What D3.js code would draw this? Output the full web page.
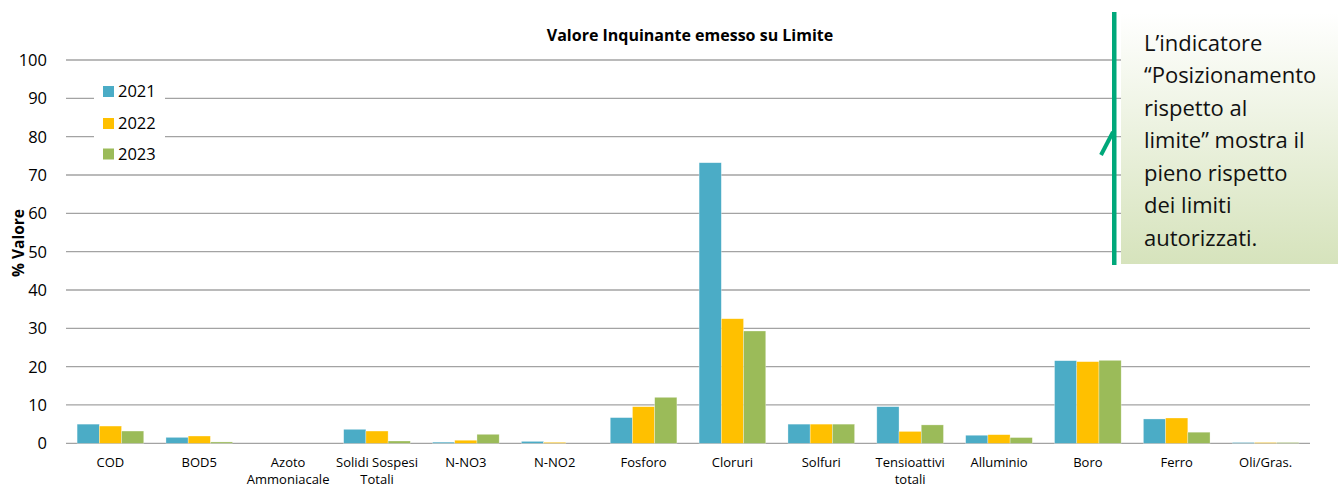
<!DOCTYPE html>
<html>
<head>
<meta charset="utf-8">
<script src="https://cdn.jsdelivr.net/npm/d3@7"></script>
<style>
  body { margin: 0; background: #fff; }
  svg { display: block; font-family: "Open Sans", sans-serif; }
</style>
</head>
<body>
<script>
// chart data
var categories = ['COD', 'BOD5', 'Azoto Ammoniacale', 'Solidi Sospesi Totali', 'N-NO3', 'N-NO2',
  'Fosforo', 'Cloruri', 'Solfuri', 'Tensioattivi totali', 'Alluminio', 'Boro', 'Ferro', 'Oli/Gras.'];
// label lines as drawn under the axis
var categoryLines = [['COD'], ['BOD5'], ['Azoto', 'Ammoniacale'], ['Solidi Sospesi', 'Totali'], ['N-NO3'], ['N-NO2'],
  ['Fosforo'], ['Cloruri'], ['Solfuri'], ['Tensioattivi', 'totali'], ['Alluminio'], ['Boro'], ['Ferro'], ['Oli/Gras.']];
var years = ['2021', '2022', '2023'];
var values2021 = [5.0, 1.55, 0, 3.65, 0.3, 0.5, 6.7, 73.2, 5.0, 9.55, 2.1, 21.55, 6.35, 0.2];
var values2022 = [4.5, 1.9, 0, 3.2, 0.8, 0.25, 9.55, 32.5, 5.0, 3.1, 2.25, 21.3, 6.6, 0.2];
var values2023 = [3.2, 0.35, 0, 0.6, 2.35, 0, 12.0, 29.3, 5.0, 4.8, 1.5, 21.65, 2.9, 0.2];
var yTicks = [0, 10, 20, 30, 40, 50, 60, 70, 80, 90, 100];
var colors = ['#4BACC6', '#FFC000', '#9BBB59'];
var noteLines = ['L\u2019indicatore', '\u201CPosizionamento', 'rispetto al', 'limite\u201D mostra il',
  'pieno rispetto', 'dei limiti', 'autorizzati.'];

var width = 1338;
var height = 488;
var svg = d3.select('body').append('svg')
  .attr('width', width)
  .attr('height', height);

var series = [values2021, values2022, values2023];

//scales
var x = d3.scaleBand().domain(categories).range([66, 1310]);
var xInner = d3.scaleBand().domain(years).range([0, x.bandwidth() * 0.75]);
var y = d3.scaleLinear().domain([0, 100]).range([443.3, 60]);

//gridlines
svg.append('g').selectAll('line').data(yTicks).enter().append('line')
  .attr('x1', 66).attr('x2', 1310)
  .attr('y1', function(d){ return y(d); })
  .attr('y2', function(d){ return y(d); })
  .style('stroke', '#a3a3a3')
  .style('stroke-width', 1.3);

//y axis labels
svg.append('g').selectAll('text').data(yTicks).enter().append('text')
  .attr('x', 47)
  .attr('y', function(d){ return y(d); })
  .attr('dy', '0.36em')
  .attr('text-anchor', 'end')
  .style('font-size', '16.5px')
  .style('fill', '#000')
  .text(function(d){ return d; });

//bars
var groups = svg.append('g').selectAll('g').data(categories).enter().append('g')
  .attr('transform', function(d){ return 'translate(' + (x(d) + x.bandwidth() * 0.125) + ',0)'; });

groups.selectAll('rect')
  .data(function(d, i){ return years.map(function(yr, j){ return {year: yr, value: series[j][i], color: colors[j]}; }); })
  .enter().append('rect')
  .attr('x', function(d){ return xInner(d.year); })
  .attr('width', xInner.bandwidth())
  .attr('y', function(d){ return y(d.value); })
  .attr('height', function(d){ return y(0) - y(d.value); })
  .style('fill', function(d){ return d.color; })
  .style('stroke', 'rgba(255,255,255,0.5)')
  .style('stroke-width', 0.6);

//x labels
var xl = svg.append('g').selectAll('text').data(categories).enter().append('text')
  .attr('x', function(d){ return x(d) + x.bandwidth() / 2; })
  .attr('y', 467)
  .attr('text-anchor', 'middle')
  .style('font-size', '13px')
  .style('fill', '#000');
xl.each(function(d, i){
  var t = d3.select(this);
  categoryLines[i].forEach(function(line, k){
    t.append('tspan')
      .attr('x', x(d) + x.bandwidth() / 2)
      .attr('dy', k === 0 ? 0 : 16.5)
      .text(line);
  });
});

//title
svg.append('text')
  .attr('x', 690).attr('y', 41)
  .attr('text-anchor', 'middle')
  .style('font-size', '16px')
  .style('font-weight', 'bold')
  .text('Valore Inquinante emesso su Limite');

//y axis title
svg.append('text')
  .attr('transform', 'translate(24,243) rotate(-90)')
  .attr('text-anchor', 'middle')
  .style('font-size', '15.5px')
  .style('font-weight', 'bold')
  .text('% Valore');

//legend
var legend = svg.append('g');
legend.append('rect')
  .attr('x', 94).attr('y', 76).attr('width', 71).attr('height', 92)
  .style('fill', '#fff');
var legendY = [91.5, 123.5, 154];
years.forEach(function(yr, j){
  legend.append('rect')
    .attr('x', 103).attr('y', legendY[j] - 5.5)
    .attr('width', 11).attr('height', 11)
    .style('fill', colors[j]);
  legend.append('text')
    .attr('x', 118).attr('y', legendY[j])
    .attr('dy', '0.36em')
    .style('font-size', '16.5px')
    .text(yr);
});

//note box
var defs = svg.append('defs');
var grad = defs.append('linearGradient')
  .attr('id', 'noteGrad')
  .attr('x1', 0).attr('y1', 0).attr('x2', 0).attr('y2', 1);
grad.append('stop').attr('offset', '0%').attr('stop-color', '#ffffff');
grad.append('stop').attr('offset', '100%').attr('stop-color', '#d6e3bc');

svg.append('rect')
  .attr('x', 1121).attr('y', 13).attr('width', 217).attr('height', 251)
  .style('fill', 'url(#noteGrad)');
svg.append('rect')
  .attr('x', 1112).attr('y', 12).attr('width', 4.5).attr('height', 253)
  .style('fill', '#00a87a');
svg.append('line')
  .attr('x1', 1101).attr('y1', 155).attr('x2', 1113).attr('y2', 132)
  .style('stroke', '#00a87a')
  .style('stroke-width', 4);

svg.append('g').selectAll('text').data(noteLines).enter().append('text')
  .attr('x', 1144)
  .attr('y', function(d, i){ return 43 + i * 32.5; })
  .attr('dy', '0.36em')
  .style('font-size', '22px')
  .style('fill', '#111')
  .text(function(d){ return d; });
</script>
</body>
</html>
